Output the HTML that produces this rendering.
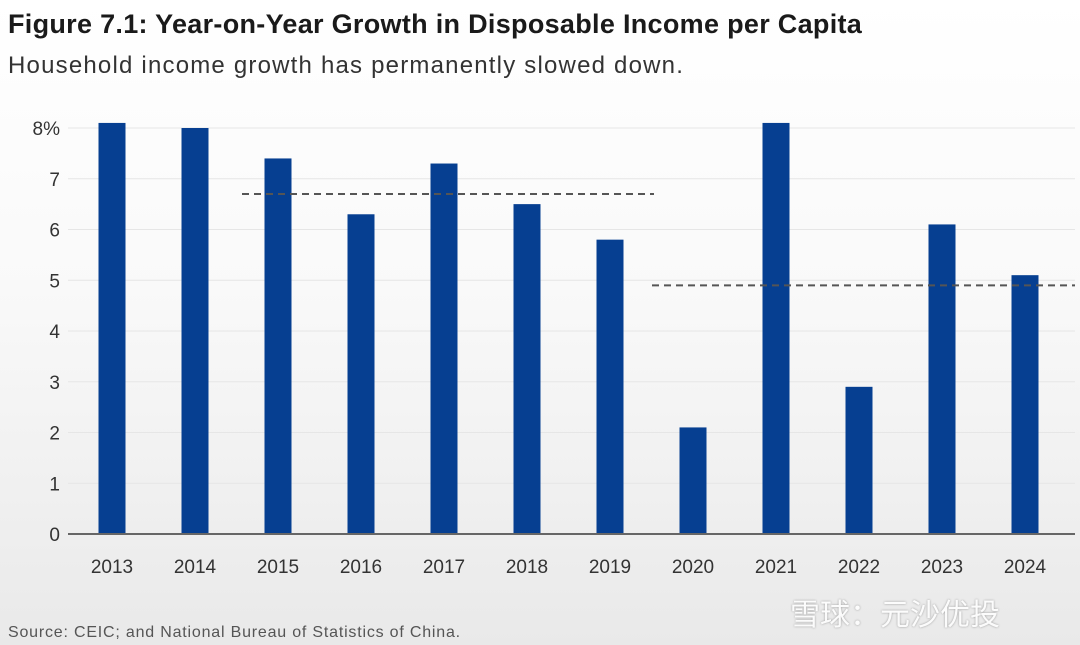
<!DOCTYPE html>
<html><head><meta charset="utf-8"><style>
html,body{margin:0;padding:0;}
body{width:1080px;height:645px;overflow:hidden;background:linear-gradient(#ffffff 0%,#f9f9f9 45%,#e9e9e9 100%);font-family:"Liberation Sans","Noto Sans CJK SC",sans-serif;position:relative;}
.t{position:absolute;left:8px;top:9px;font-size:27px;font-weight:bold;color:#1a1a1a;letter-spacing:0.3px;}
.s{position:absolute;left:8px;top:52px;font-size:24px;color:#333;letter-spacing:1.2px;}
.src{position:absolute;left:8px;top:624px;font-size:16px;color:#555;letter-spacing:0.8px;}
.wm{position:absolute;left:790px;top:590px;font-size:30px;color:#fff;text-shadow:0 0 2px #888;opacity:.85;}
svg{position:absolute;left:0;top:0;}
</style></head><body>
<div class="t">Figure 7.1: Year-on-Year Growth in Disposable Income per Capita</div>
<div class="s">Household income growth has permanently slowed down.</div>
<svg id="c" width="1080" height="645"></svg>
<div class="src">Source: CEIC; and National Bureau of Statistics of China.</div>
<div class="wm">雪球：元沙优投</div>
<script>
const years=["2013","2014","2015","2016","2017","2018","2019","2020","2021","2022","2023","2024"];
const growth=[8.1,8.0,7.4,6.3,7.3,6.5,5.8,2.1,8.1,2.9,6.1,5.1];
const yTicks=[0,1,2,3,4,5,6,7,8];
const avgPeriods=[{from:"2015",to:"2019",value:6.7},{from:"2020",to:"2024",value:4.9}];
const NS="http://www.w3.org/2000/svg",svg=document.getElementById('c');
const y=v=>534-v*50.75, x=i=>112+i*83;
function mk(t,a){const e=document.createElementNS(NS,t);for(const k in a)e.setAttribute(k,a[k]);svg.appendChild(e);return e;}
yTicks.forEach(t=>{
 if(t>0){const g=mk('line',{x1:68,x2:1075,y1:y(t),y2:y(t),stroke:'#e6e6e6','stroke-width':1});
 
 }
 const l=mk('text',{x:60,y:y(t)+7,'text-anchor':'end','font-size':19,fill:'#333'});
 l.textContent=t===8?'8%':String(t);
 
 
});
growth.forEach((v,i)=>{
 const r=mk('rect',{x:x(i)-13.5,y:y(v),width:27,height:534-y(v),fill:'#063f91'});
 
 
 const l=mk('text',{x:x(i),y:573,'text-anchor':'middle','font-size':19,fill:'#333'});
 l.textContent=years[i];
 
 
});
const ax=mk('line',{x1:68,x2:1075,y1:534,y2:534,stroke:'#666','stroke-width':2});


avgPeriods.forEach((p,k)=>{
 const a=years.indexOf(p.from),b=years.indexOf(p.to);
 const x1=k===0?x(a)-36:x(a)-41, x2=k===0?x(b)+44:1075;
 const d=mk('line',{x1:x1,x2:x2,y1:y(p.value),y2:y(p.value),stroke:'#555','stroke-width':2,'stroke-dasharray':'7,5'});
 
 
});
</script>
</body></html>
